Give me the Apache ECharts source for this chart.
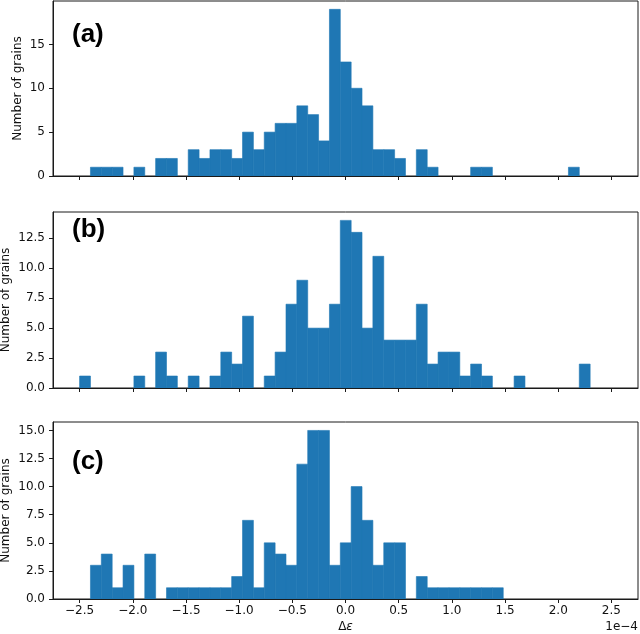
<!DOCTYPE html>
<html>
<head>
<meta charset="utf-8">
<title>Number of grains</title>
<script src="https://cdn.jsdelivr.net/npm/echarts@6/dist/echarts.min.js"></script>
<style>
  html, body { margin: 0; padding: 0; background: #fff; }
  #chart { width: 640px; height: 634px; }
</style>
</head>
<body>
<div id="chart"></div>
<script>
// shared histogram bins (units of 1e-4), first bin starts at binStart
var binStart = -2.5
var binWidth = 0.10213

// counts per bin for each panel
var countsA = [0, 1, 1, 1, 0, 1, 0, 2, 2, 0, 3, 2, 3, 3, 2, 5, 3, 5, 6, 6, 8, 7, 4, 19, 13, 10, 8, 3, 3, 2, 0, 3, 1, 0, 0, 0, 1, 1, 0, 0, 0, 0, 0, 0, 0, 1]
var countsB = [1, 0, 0, 0, 0, 1, 0, 3, 1, 0, 1, 0, 1, 3, 2, 6, 0, 1, 3, 7, 9, 5, 5, 7, 14, 13, 5, 11, 4, 4, 4, 7, 2, 3, 3, 1, 2, 1, 0, 0, 1, 0, 0, 0, 0, 0, 2]
var countsC = [0, 3, 4, 1, 3, 0, 4, 0, 1, 1, 1, 1, 1, 1, 2, 7, 1, 5, 4, 3, 12, 15, 15, 3, 5, 10, 7, 3, 5, 5, 0, 2, 1, 1, 1, 1, 1, 1, 1]

var panelLabels = ['(a)', '(b)', '(c)']
var xTicks = [-2.5, -2.0, -1.5, -1.0, -0.5, 0.0, 0.5, 1.0, 1.5, 2.0, 2.5]
var yTicksA = [0, 5, 10, 15]
var yTicksB = [0, 2.5, 5, 7.5, 10, 12.5]
var yTicksC = [0, 2.5, 5, 7.5, 10, 12.5, 15]
var yMaxes = [19.95, 14.7, 15.75]

var barColor = '#1f77b4'
var axisColor = '#1a1a1a'
var tickFont = 'DejaVu Sans'

// [left edge, right edge, count], empty bins dropped
function toBins(counts) {
  var out = []
  counts.forEach(function(n, i) {
    if (n > 0) out.push([binStart + i * binWidth, binStart + (i + 1) * binWidth, n])
  })
  return out
}

function renderBin(params, api) {
  var p0 = api.coord([api.value(0), 0])
  var p1 = api.coord([api.value(1), api.value(2)])
  return {
    type: 'rect',
    shape: { x: p0[0], y: p1[1], width: p1[0] - p0[0], height: p0[1] - p1[1] },
    // thin same-colour stroke hides seams between neighbouring bins
    style: { fill: barColor, stroke: barColor, lineWidth: 0.6 }
  }
}

function fmtMinus(v, digits) {
  var s = Math.abs(v).toFixed(digits)
  return v < 0 ? '\u2212' + s : s
}

var chart = echarts.init(document.getElementById('chart'), null, { renderer: 'canvas' })

var grids = [
  { left: 53, width: 585, top: 1, height: 175 },
  { left: 53, width: 585, top: 212, height: 176 },
  { left: 53, width: 585, top: 422, height: 177 }
]
var yTickSets = [yTicksA, yTicksB, yTicksC]
var yDigits = [0, 1, 1]
var yNameGaps = [29, 41, 41]
var labelTops = [22, 217, 449]
var allCounts = [countsA, countsB, countsC]

chart.setOption({
  animation: false,
  backgroundColor: '#fff',
  title: panelLabels.map(function(t, i) {
    return {
      text: t,
      left: 72,
      top: labelTops[i],
      padding: 0,
      textStyle: { fontFamily: 'Liberation Sans', fontWeight: 'bold', fontSize: 26, color: '#000' }
    }
  }),
  grid: grids.map(function(g) {
    return Object.assign({
      show: true,
      borderColor: axisColor,
      borderWidth: 1,
      backgroundColor: 'transparent',
      containLabel: false,
      outerBoundsMode: 'none'
    }, g)
  }),
  xAxis: grids.map(function(g, i) {
    var last = i === 2
    return {
      type: 'value',
      gridIndex: i,
      min: -2.75,
      max: 2.75,
      z: 5,
      splitLine: { show: false },
      axisLine: { show: true, onZero: false, lineStyle: { color: axisColor, width: 1 } },
      axisTick: { show: true, length: 4, customValues: xTicks, lineStyle: { color: axisColor } },
      axisLabel: {
        show: last,
        customValues: xTicks,
        margin: 6,
        fontFamily: tickFont,
        fontSize: 12,
        color: '#111',
        formatter: function(v) { return fmtMinus(v, 1) }
      },
      name: last ? '{n|\u0394}{i|\u03b5}' : '',
      nameLocation: 'middle',
      nameGap: 22,
      nameMoveOverlap: false,
      nameTextStyle: {
        rich: {
          n: { fontFamily: tickFont, fontSize: 12, color: '#111' },
          i: { fontFamily: tickFont, fontSize: 12, fontStyle: 'italic', color: '#111' }
        }
      }
    }
  }),
  yAxis: grids.map(function(g, i) {
    return {
      type: 'value',
      gridIndex: i,
      min: 0,
      max: yMaxes[i],
      z: 5,
      splitLine: { show: false },
      axisLine: { show: true, onZero: false, lineStyle: { color: axisColor, width: 1 } },
      axisTick: { show: true, length: 4, customValues: yTickSets[i], lineStyle: { color: axisColor } },
      axisLabel: {
        customValues: yTickSets[i],
        margin: 8,
        fontFamily: tickFont,
        fontSize: 12,
        color: '#111',
        formatter: function(v) { return fmtMinus(v, yDigits[i]) }
      },
      name: 'Number of grains',
      nameLocation: 'middle',
      nameGap: yNameGaps[i],
      nameRotate: 90,
      nameMoveOverlap: false,
      nameTextStyle: { fontFamily: tickFont, fontSize: 12, color: '#111' }
    }
  }),
  graphic: [
    {
      type: 'text',
      right: 2,
      top: 621,
      style: { text: '1e\u22124', fontFamily: tickFont, fontSize: 12, fill: '#111' }
    }
  ],
  series: allCounts.map(function(c, i) {
    return {
      type: 'custom',
      xAxisIndex: i,
      yAxisIndex: i,
      renderItem: renderBin,
      encode: { x: [0, 1], y: 2 },
      data: toBins(c)
    }
  })
})
</script>
</body>
</html>
